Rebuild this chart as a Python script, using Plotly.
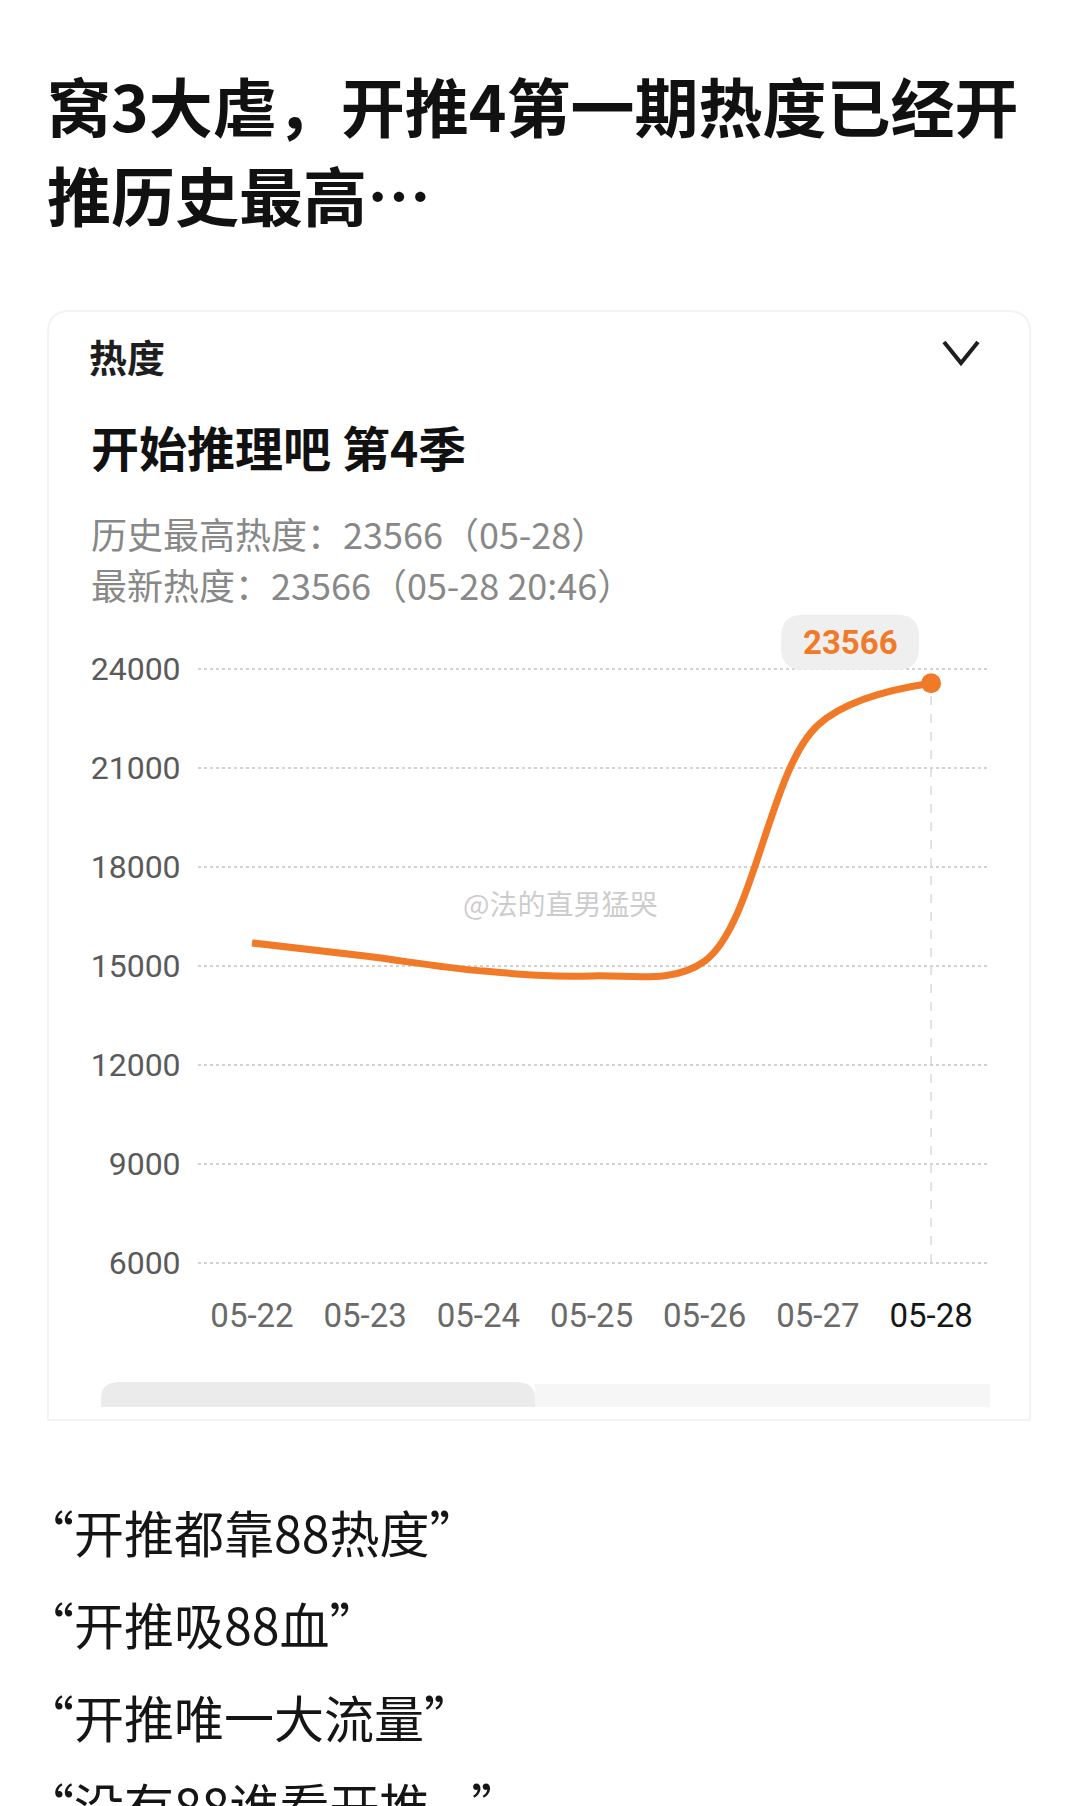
import plotly.graph_objects as go

# ---------------- data ----------------
dates = ["05-22", "05-23", "05-24", "05-25", "05-26", "05-27", "05-28"]
heat = [15700, 15300, 14860, 14700, 15150, 22300, 23566]
y_ticks = [6000, 9000, 12000, 15000, 18000, 21000, 24000]
peak_label = "23566"

title_lines = ["窝3大虐，开推4第一期热度已经开", "推历史最高…"]
card_tag = "热度"
show_name = "开始推理吧 第4季"
info_lines = ["历史最高热度：23566（05-28）", "最新热度：23566（05-28 20:46）"]
watermark = "@法的直男猛哭"
bottom_lines = ["“开推都靠88热度”", "“开推吸88血”", "“开推唯一大流量”", "“没有88谁看开推...”"]

ORANGE = "#F07A28"
CJK = "Noto Sans CJK SC"

# ---------------- layout geometry (pixels) ----------------
W, H = 1080, 1806
L, R, T, B = 198, 987, 664, 1268
XR = [-0.477, 6.494]
YR = [5850, 24150]


def px(x):
    return (x - L) / (R - L)


def py(y):
    return (B - y) / (B - T)


def data_to_pix(xv, yv):
    return (L + (xv - XR[0]) / (XR[1] - XR[0]) * (R - L),
            B - (yv - YR[0]) / (YR[1] - YR[0]) * (B - T))


x_idx = list(range(len(dates)))
tick_text = [d if i < len(dates) - 1 else f"<span style='color:#161616'>{d}</span>"
             for i, d in enumerate(dates)]

fig = go.Figure()
fig.add_trace(go.Scatter(
    x=x_idx, y=heat, mode="lines",
    line=dict(color=ORANGE, width=7, shape="spline", smoothing=1.0),
    hoverinfo="skip", showlegend=False,
))
fig.add_trace(go.Scatter(
    x=[x_idx[-1]], y=[heat[-1]], mode="markers",
    marker=dict(color=ORANGE, size=20),
    hoverinfo="skip", showlegend=False,
))

shapes = []
# card
shapes.append(dict(type="path", xref="paper", yref="paper",
                   path=(f"M{px(70)},{py(311)} L{px(1008)},{py(311)} "
                         f"Q{px(1030)},{py(311)} {px(1030)},{py(333)} "
                         f"L{px(1030)},{py(1420)} L{px(48)},{py(1420)} "
                         f"L{px(48)},{py(333)} Q{px(48)},{py(311)} {px(70)},{py(311)} Z"),
                   line=dict(color="#f3f3f3", width=2), fillcolor="white", layer="below"))
# bottom tab bar
shapes.append(dict(type="rect", xref="paper", yref="paper",
                   x0=px(535), x1=px(990), y0=py(1407), y1=py(1384),
                   line=dict(width=0), fillcolor="#f6f6f6", layer="below"))
shapes.append(dict(type="path", xref="paper", yref="paper",
                   path=(f"M{px(101)},{py(1407)} L{px(101)},{py(1398)} "
                         f"Q{px(101)},{py(1382)} {px(120)},{py(1382)} "
                         f"L{px(515)},{py(1382)} Q{px(535)},{py(1382)} {px(535)},{py(1398)} "
                         f"L{px(535)},{py(1407)} Z"),
                   line=dict(width=0), fillcolor="#ebebeb", layer="below"))
# chevron
shapes.append(dict(type="path", xref="paper", yref="paper",
                   path=f"M{px(944)},{py(342)} L{px(961)},{py(363)} L{px(978)},{py(342)}",
                   line=dict(color="#1e1e1e", width=4)))
# vertical dashed guide at the last date
shapes.append(dict(type="line", xref="x", yref="y",
                   x0=x_idx[-1], x1=x_idx[-1], y0=y_ticks[0], y1=y_ticks[-1],
                   line=dict(color="#d9d9d9", width=1.5, dash="dash"), layer="below"))
# tooltip bubble, placed relative to the peak point (paper refs so it is not clipped)
pkx, pky = data_to_pix(x_idx[-1], heat[-1])
cx, cy = pkx - 81, pky - 41
bw, bh, r = 138, 55, 22
bx0, bx1, by0, by1 = cx - bw / 2, cx + bw / 2, cy - bh / 2, cy + bh / 2
shapes.append(dict(type="path", xref="paper", yref="paper",
                   path=(f"M{px(bx0 + r)},{py(by0)} L{px(bx1 - r)},{py(by0)} "
                         f"Q{px(bx1)},{py(by0)} {px(bx1)},{py(by0 + r)} "
                         f"L{px(bx1)},{py(by1 - r)} Q{px(bx1)},{py(by1)} {px(bx1 - r)},{py(by1)} "
                         f"L{px(bx0 + r)},{py(by1)} Q{px(bx0)},{py(by1)} {px(bx0)},{py(by1 - r)} "
                         f"L{px(bx0)},{py(by0 + r)} Q{px(bx0)},{py(by0)} {px(bx0 + r)},{py(by0)} Z"),
                   line=dict(width=0), fillcolor="#efefef"))

ann = []
ann.append(dict(xref="paper", yref="paper", x=px(45), y=py(104), xanchor="left", yanchor="middle",
                text=f"<b>{title_lines[0]}</b>", showarrow=False,
                font=dict(family=CJK, size=64, color="#111111")))
ann.append(dict(xref="paper", yref="paper", x=px(45), y=py(193), xanchor="left", yanchor="middle",
                text=f"<b>{title_lines[1]}</b>", showarrow=False,
                font=dict(family=CJK, size=64, color="#111111")))
ann.append(dict(xref="paper", yref="paper", x=px(87), y=py(355), xanchor="left", yanchor="middle",
                text=f"<b>{card_tag}</b>", showarrow=False,
                font=dict(family=CJK, size=38, color="#1e1e1e")))
ann.append(dict(xref="paper", yref="paper", x=px(89), y=py(446), xanchor="left", yanchor="middle",
                text=f"<b>{show_name}</b>", showarrow=False,
                font=dict(family=CJK, size=48, color="#111111")))
for i, t in enumerate(info_lines):
    ann.append(dict(xref="paper", yref="paper", x=px(89), y=py(533 + i * 51),
                    xanchor="left", yanchor="middle", text=t, showarrow=False,
                    font=dict(family=CJK, size=36, color="#888888")))
ann.append(dict(xref="paper", yref="paper", x=px(560), y=py(903), xanchor="center", yanchor="middle",
                text=watermark, showarrow=False,
                font=dict(family=CJK, size=28, color="rgba(170,170,170,0.6)")))
ann.append(dict(xref="x", yref="y", x=x_idx[-1], y=heat[-1], xshift=-81, yshift=41,
                xanchor="center", yanchor="middle", text=f"<b>{peak_label}</b>", showarrow=False,
                font=dict(family="Roboto", size=33, color=ORANGE)))
bottom_y = [1531, 1623, 1716, 1804]
for t, yy in zip(bottom_lines, bottom_y):
    ann.append(dict(xref="paper", yref="paper", x=px(22), y=py(yy), xanchor="left", yanchor="middle",
                    text=t, showarrow=False,
                    font=dict(family=CJK, size=50, color="#151515")))

fig.update_layout(
    width=W, height=H,
    margin=dict(l=L, r=W - R, t=T, b=H - B, pad=0),
    paper_bgcolor="white", plot_bgcolor="rgba(0,0,0,0)",
    shapes=shapes, annotations=ann, showlegend=False,
)
fig.update_xaxes(
    range=XR, tickmode="array", tickvals=x_idx, ticktext=tick_text,
    showgrid=False, zeroline=False, showline=False,
    ticks="outside", ticklen=18, tickcolor="rgba(0,0,0,0)",
    tickfont=dict(family="Roboto", size=33, color="#6a6a6a"),
)
fig.update_yaxes(
    range=YR, tickmode="array", tickvals=y_ticks,
    ticktext=[str(v) for v in y_ticks],
    showgrid=True, gridcolor="#d2d2d2", gridwidth=1.5, griddash="dot",
    zeroline=False, showline=False,
    ticks="outside", ticklen=10, tickcolor="rgba(0,0,0,0)",
    tickfont=dict(family="Roboto", size=32, color="#5a5a5a"),
)

fig.write_html("out.html")
